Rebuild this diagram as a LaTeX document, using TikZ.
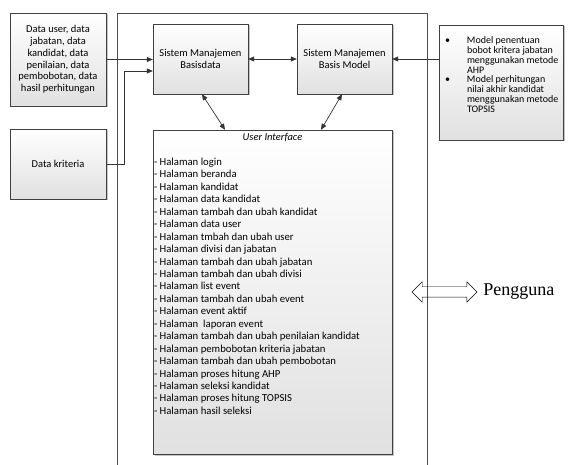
\documentclass[tikz,border=0pt]{standalone}
\usepackage{fontspec}
\setmainfont{Liberation Serif}
\newfontfamily\calib{Carlito}
\usetikzlibrary{arrows.meta,shadows,shapes.arrows}

\begin{document}
\begin{tikzpicture}[
	x=1pt, y=-1pt,
	% Define the styles for the boxes and connectors
	box/.style={draw=black!75, thin, top color=white, bottom color=black!12,
		drop shadow={shadow xshift=1.5pt, shadow yshift=-1.5pt, fill=black!45},
		align=center, inner sep=2pt, font=\calib\fontsize{10.5}{11.8}\selectfont},
	link/.style={draw=black!80, line width=0.7pt, -{Triangle[length=6pt,width=5pt]}},
	link2/.style={link, {Triangle[length=6pt,width=5pt]}-{Triangle[length=6pt,width=5pt]}}
	]
	\useasboundingbox (0,0) rectangle (568,465);
	
	% --- FRAME ---
	\draw[black!70, line width=0.7pt] (117,465) |- (427,13) -- (427,465);
	
	% --- BOXES ---
	% Format: \node (internal_name) at (x,y) [size] {text};
	
	\node (datauser) at (58,59.5) [box, minimum width=96, minimum height=93]
		{Data user, data\\jabatan, data\\kandidat, data\\penilaian, data\\pembobotan, data\\hasil perhitungan};
	\node (kriteria) at (58,164) [box, minimum width=96, minimum height=70] {Data kriteria};
	\node (smb) at (200.5,59) [box, minimum width=95, minimum height=70] {Sistem Manajemen\\Basisdata};
	\node (smbm) at (344.5,59) [box, minimum width=95, minimum height=70] {Sistem Manajemen\\Basis Model};
	\node (model) at (501,82.5) [box, minimum width=124, minimum height=115] {};
	\node (modeltext) at ([xshift=6pt, yshift=8pt]model.west) [anchor=west, align=left, inner sep=0pt,
		font=\calib\fontsize{10}{9.8}\selectfont]
		{\makebox[22pt][l]{\textbullet}Model penentuan\\
		 \hspace*{22pt}bobot kritera jabatan\\
		 \hspace*{22pt}menggunakan metode\\
		 \hspace*{22pt}AHP\\
		 \makebox[22pt][l]{\textbullet}Model perhitungan\\
		 \hspace*{22pt}nilai akhir kandidat\\
		 \hspace*{22pt}menggunakan metode\\
		 \hspace*{22pt}TOPSIS};
	\node (ui) at (272.5,292) [box, minimum width=239, minimum height=324] {};
	\node (uititle) at ([yshift=-8pt]ui.north) [inner sep=0pt, font=\calib\fontsize{10.5}{11.8}\selectfont\itshape]
		{User Interface};
	\node (uilist) at ([xshift=1pt, yshift=-28pt]ui.north west) [anchor=north west, align=left,
		inner sep=0pt, font=\calib\fontsize{10.7}{12.45}\selectfont]
		{- Halaman login\\
		 - Halaman beranda\\
		 - Halaman kandidat\\
		 - Halaman data kandidat\\
		 - Halaman tambah dan ubah kandidat\\
		 - Halaman data user\\
		 - Halaman tmbah dan ubah user\\
		 - Halaman divisi dan jabatan\\
		 - Halaman tambah dan ubah jabatan\\
		 - Halaman tambah dan ubah divisi\\
		 - Halaman list event\\
		 - Halaman tambah dan ubah event\\
		 - Halaman event aktif\\
		 - Halaman\ \ laporan event\\
		 - Halaman tambah dan ubah penilaian kandidat\\
		 - Halaman pembobotan kriteria jabatan\\
		 - Halaman tambah dan ubah pembobotan\\
		 - Halaman proses hitung AHP\\
		 - Halaman seleksi kandidat\\
		 - Halaman proses hitung TOPSIS\\
		 - Halaman hasil seleksi};
	
	% --- USER ---
	\node (arr) at (444.5,292) [draw, thin, shape=double arrow, minimum height=65, minimum width=20,
		double arrow head extend=5pt, inner sep=5pt] {};
	\node (pengguna) at ([xshift=6pt]arr.east) [anchor=west, inner sep=0pt,
		font=\rmfamily\fontsize{18}{20}\selectfont] {Pengguna};
	
	% --- CONNECTORS ---
	\coordinate (bend) at (124,71);
	
	\draw[link] (datauser.east) -- (datauser.east -| smb.west);
	\draw[link] (kriteria.east) -| (bend) -- (bend -| smb.west);
	\draw[link2] (smb.east) -- (smbm.west);
	\draw[link] (smbm.east -| model.west) -- (smbm.east);
	\draw[link2] ([xshift=1.5pt]smb.south) -- ([xshift=-47.5pt]ui.north);
	\draw[link2] ([xshift=-2.5pt]smbm.south) -- ([xshift=48.5pt]ui.north);
	
\end{tikzpicture}
\end{document}
